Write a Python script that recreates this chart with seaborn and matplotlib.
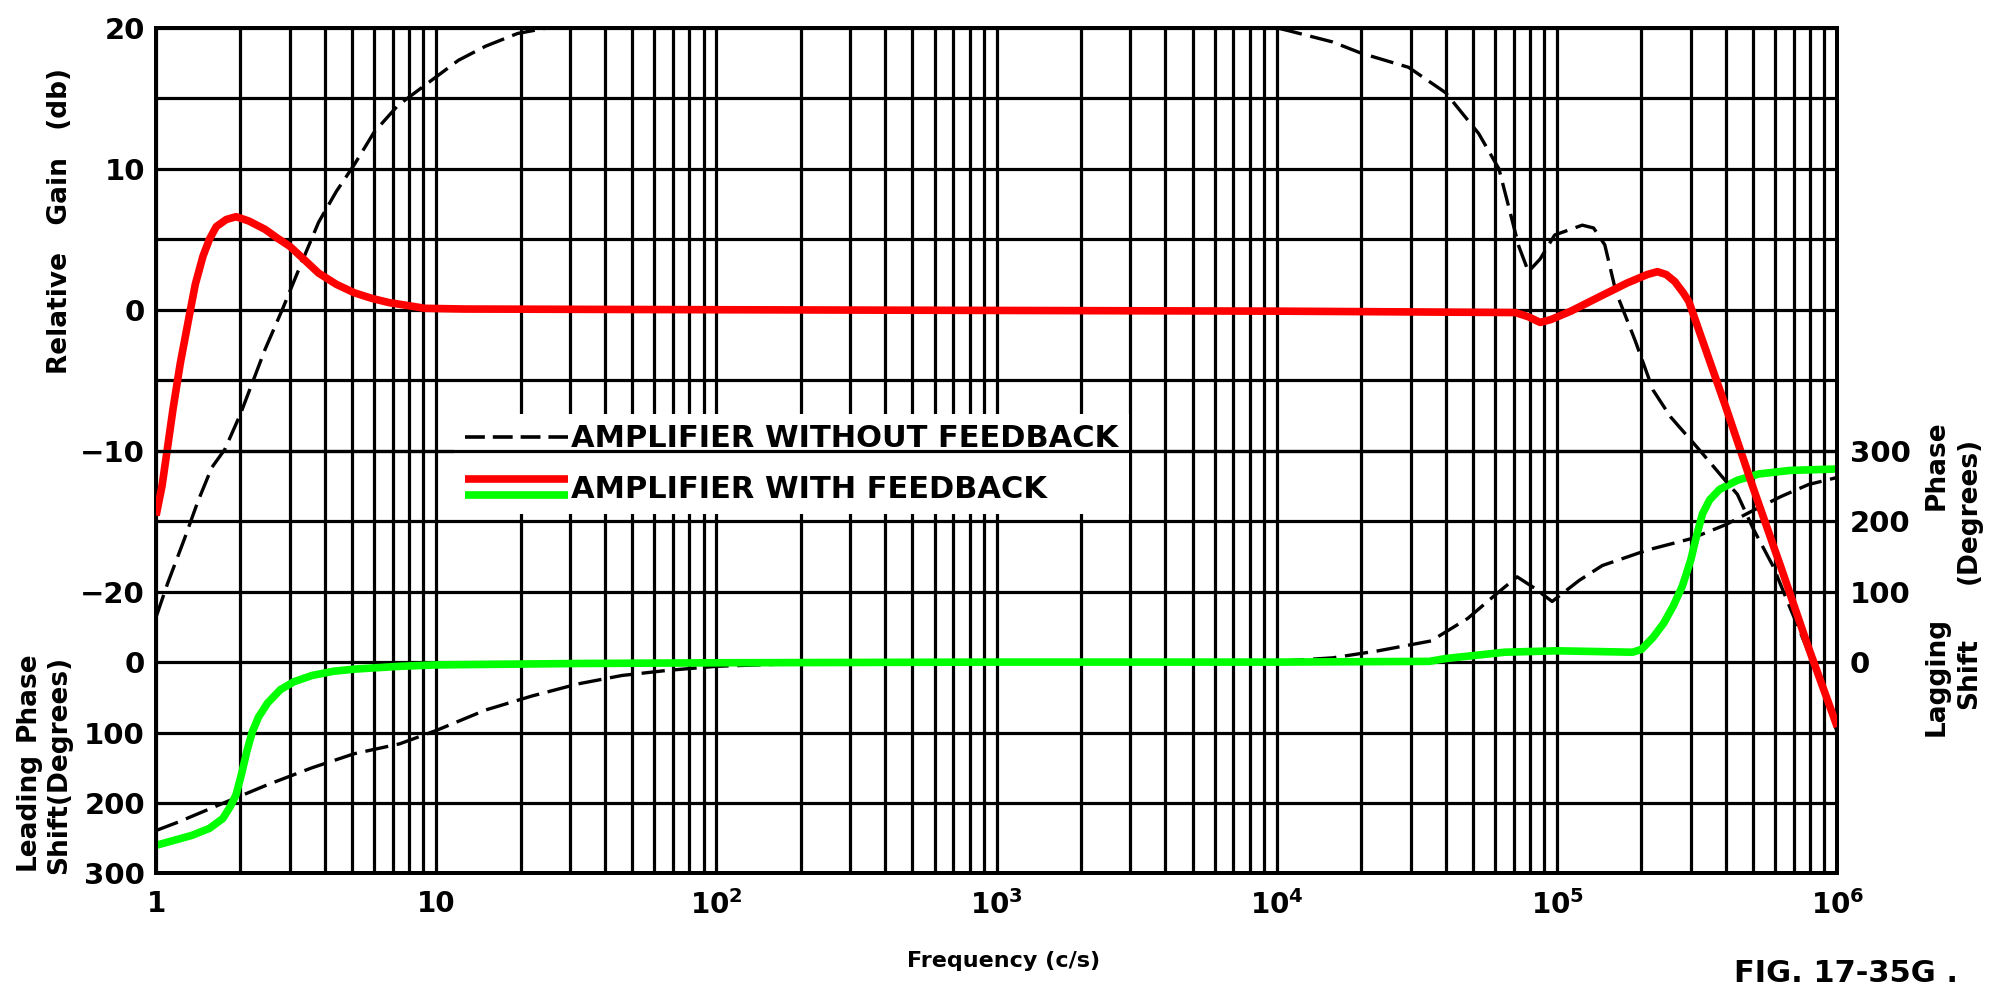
import numpy as np
import pandas as pd
import matplotlib
matplotlib.use("Agg")
import matplotlib.pyplot as plt
import seaborn as sns
from matplotlib.legend_handler import HandlerBase
from matplotlib.lines import Line2D

# ---------------- data ----------------
# Relative gain with feedback (dB)
fb_gain_freq = [1.0, 1.05, 1.1, 1.15, 1.22, 1.32, 1.38, 1.47, 1.55, 1.64, 1.78, 1.93,
                2.14, 2.45, 2.7, 3.0, 3.4, 3.8, 4.4, 5.1, 5.9, 6.8, 7.9, 9.1, 12.6,
                100, 1000, 1e4, 7.1e4, 7.9e4, 8.7e4, 9.5e4, 1.12e5, 1.41e5, 1.78e5,
                2.1e5, 2.28e5, 2.45e5, 2.63e5, 2.82e5, 2.95e5, 4.0e5, 5.0e5, 6.3e5,
                7.9e5, 1e6]
fb_gain_db = [-14.6, -12.5, -9.7, -7.0, -3.8, -0.2, 1.8, 3.8, 5.0, 5.9, 6.4, 6.6,
              6.3, 5.7, 5.1, 4.5, 3.5, 2.6, 1.8, 1.2, 0.8, 0.5, 0.3, 0.1, 0.05,
              0.0, -0.05, -0.1, -0.2, -0.5, -0.9, -0.7, -0.1, 0.9, 1.9,
              2.5, 2.7, 2.5, 2.0, 1.2, 0.6, -6.9, -12.6, -18.3,
              -24.0, -29.6]

# Relative gain without feedback (dB)
nofb_gain_freq = [1, 1.1, 1.26, 1.41, 1.58, 1.76, 2.0, 2.45, 2.82, 3.3, 3.8, 4.4, 5.1,
                  6.0, 7.3, 9.8, 12, 15, 19.5, 25, 1e4, 1.1e4, 1.58e4, 2.0e4, 2.95e4,
                  4.0e4, 5.25e4, 6.2e4, 6.7e4, 7.3e4, 7.9e4, 8.7e4, 9.8e4, 1.23e5,
                  1.35e5, 1.48e5, 1.62e5, 1.9e5, 2.2e5, 2.54e5, 3.27e5, 3.9e5, 4.4e5,
                  5.0e5, 5.9e5, 6.8e5, 7.9e5, 9.1e5, 1e6]
nofb_gain_db = [-21.8, -19.4, -16.3, -13.6, -11.2, -9.9, -7.4, -2.8, 0.0, 3.3, 6.2, 8.4,
                10.3, 12.6, 14.5, 16.4, 17.7, 18.7, 19.6, 20.0, 20.0, 19.8, 19.0, 18.2,
                17.2, 15.4, 12.5, 10.0, 7.4, 4.5, 2.7, 3.6, 5.3, 6.0,
                5.8, 4.6, 1.3, -2.2, -5.7, -7.6, -10.1, -11.9, -13.1,
                -15.5, -18.2, -21.2, -24.3, -27.6, -30.0]

# Phase shift without feedback (degrees, lagging positive / leading negative)
nofb_phase_freq = [1, 1.2, 1.74, 2.5, 3.6, 5.1, 7.4, 10, 15, 22, 32, 46, 66, 100, 200,
                   1000, 1e4, 1.58e4, 2.3e4, 3.55e4, 4.8e4, 6.0e4, 7.2e4, 8.3e4,
                   9.6e4, 1.2e5, 1.45e5, 2.1e5, 3.0e5, 4.0e5, 5.0e5, 6.3e5, 7.9e5, 1e6]
nofb_phase_deg = [-239, -227, -200, -174, -150, -130, -116, -97, -68, -48, -31, -19, -12,
                  -6, -2, 0, 1, 6, 16, 30, 62, 95, 121, 105,
                  86, 116, 137, 159, 175, 195, 215, 235, 252, 262]

# Phase shift with feedback (degrees, lagging positive / leading negative)
fb_phase_freq = [1, 1.34, 1.55, 1.73, 1.84, 1.93, 2.02, 2.11, 2.2, 2.32, 2.5, 2.78, 3.1,
                 3.6, 4.3, 5.1, 7.4, 10, 32, 100, 1000, 1e4, 3.5e4, 4.0e4, 6.5e4, 1e5,
                 1.86e5, 2.0e5, 2.2e5, 2.4e5, 2.6e5, 2.8e5, 3.0e5, 3.15e5, 3.3e5,
                 3.5e5, 3.8e5, 4.4e5, 5.25e5, 6.8e5, 1e6]
fb_phase_deg = [-260, -246, -236, -222, -205, -188, -158, -126, -100, -78, -58, -39, -28,
                -19, -13, -10, -6, -4, -2, -1, 0, 0, 1, 5, 14, 16,
                14, 18, 35, 55, 80, 108, 145, 180, 210,
                230, 245, 258, 267, 272, 274]

x_tick_vals = [1, 10, 100, 1000, 1e4, 1e5, 1e6]
x_tick_labels = ["1", "10", r"$\mathbf{10^2}$", r"$\mathbf{10^3}$", r"$\mathbf{10^4}$",
                 r"$\mathbf{10^5}$", r"$\mathbf{10^6}$"]
gain_tick_vals = [20, 10, 0, -10, -20, -25, -30, -35, -40]
gain_tick_labels = ["20", "10", "0", "\u221210", "\u221220", "0", "100", "200", "300"]
lag_tick_vals = [0, 100, 200, 300]

legend_labels = ["AMPLIFIER WITHOUT FEEDBACK", "AMPLIFIER WITH FEEDBACK"]

# ---------------- style ----------------
sns.set_theme(style="white")
plt.rcParams["font.family"] = ["DejaVu Sans"]
plt.rcParams["font.weight"] = "bold"
plt.rcParams["mathtext.default"] = "bf"
for k in ("text.color", "axes.labelcolor", "xtick.color", "ytick.color",
          "axes.edgecolor"):
    plt.rcParams[k] = "black"

RED = "#FF0000"
GREEN = "#00FF00"
BLACK = "#000000"
DASH = (0, (7, 2.6))
GRID_LW = 2.3

fig = plt.figure(figsize=(19.91, 9.84), dpi=100)
fig.patch.set_facecolor("white")

# phase axes (bottom layer, carries grid)
ax = fig.add_axes([0.0784, 0.1123, 0.8444, 0.8594])
ax.set_xscale("log")
ax.set_xlim(1, 1e6)
ax.set_ylim(-300, 900)

# gain axes (top layer)
ax2 = ax.twinx()
ax2.set_xscale("log")
ax2.set_xlim(1, 1e6)
ax2.set_ylim(-40, 20)

# grid
phase_grid = list(range(-300, 901, 100))
ax.set_yticks(phase_grid)
ax.grid(True, which="major", axis="y", color=BLACK, lw=GRID_LW)
ax.grid(True, which="both", axis="x", color=BLACK, lw=GRID_LW)
ax.set_axisbelow(True)

# phase curves
df_nofb_ph = pd.DataFrame({"f": nofb_phase_freq, "p": nofb_phase_deg})
df_fb_ph = pd.DataFrame({"f": fb_phase_freq, "p": fb_phase_deg})
sns.lineplot(data=df_nofb_ph, x="f", y="p", ax=ax, color=BLACK, lw=2.4,
             linestyle=DASH, estimator=None, sort=False, zorder=3)
sns.lineplot(data=df_fb_ph, x="f", y="p", ax=ax, color=GREEN, lw=5.5,
             estimator=None, sort=False, zorder=4, solid_capstyle="butt")

# gain curves
df_nofb_g = pd.DataFrame({"f": nofb_gain_freq, "g": nofb_gain_db})
df_fb_g = pd.DataFrame({"f": fb_gain_freq, "g": fb_gain_db})
sns.lineplot(data=df_nofb_g, x="f", y="g", ax=ax2, color=BLACK, lw=2.4,
             linestyle=DASH, estimator=None, sort=False, zorder=3, clip_on=False)
sns.lineplot(data=df_fb_g, x="f", y="g", ax=ax2, color=RED, lw=5.5,
             estimator=None, sort=False, zorder=4, solid_capstyle="butt")

# ticks
ax.yaxis.set_ticks_position("right")
ax.set_yticks(phase_grid)
ax.set_yticklabels([str(v) if v in lag_tick_vals else "" for v in phase_grid])
ax.tick_params(axis="y", which="both", length=0, left=False, labelleft=False,
               right=False, labelright=True, labelsize=21, pad=9, colors=BLACK)
ax2.yaxis.set_ticks_position("left")
ax2.set_yticks(gain_tick_vals)
ax2.set_yticklabels(gain_tick_labels)
ax2.tick_params(axis="y", which="both", length=0, left=False, labelleft=True,
                right=False, labelright=False, labelsize=21, pad=8, colors=BLACK)
ax.set_xticks(x_tick_vals)
ax.set_xticklabels(x_tick_labels)
ax.tick_params(axis="x", which="both", length=0, labelsize=20, pad=12, colors=BLACK)
ax2.tick_params(axis="x", which="both", length=0, labelbottom=False)
for t in ax.get_yticklabels() + ax2.get_yticklabels() + ax.get_xticklabels():
    t.set_fontweight("bold")

ax.set_xlabel("")
ax.set_ylabel("")
ax2.set_xlabel("")
ax2.set_ylabel("")

for a in (ax, ax2):
    for s in a.spines.values():
        s.set_color(BLACK)
        s.set_linewidth(2.8)

# legend
class HandlerStack(HandlerBase):
    def create_artists(self, legend, orig_handle, xdescent, ydescent, width,
                       height, fontsize, trans):
        arts = []
        yc = -ydescent + height / 2.0
        d = 0.27 * fontsize
        for h, y in zip(orig_handle, (yc + d, yc - d)):
            ln = Line2D([-xdescent, width - xdescent], [y, y], color=h.get_color(),
                        lw=h.get_linewidth(), solid_capstyle="butt", transform=trans)
            arts.append(ln)
        return arts

h_nofb = Line2D([], [], color=BLACK, lw=2.6, linestyle=(0, (5.5, 2.2)))
h_red = Line2D([], [], color=RED, lw=5.5)
h_green = Line2D([], [], color=GREEN, lw=5.5)
leg = ax2.legend([h_nofb, (h_red, h_green)], legend_labels,
                 handler_map={tuple: HandlerStack()},
                 loc="upper left", bbox_to_anchor=(0.168, 0.562),
                 frameon=True, facecolor="white", edgecolor="none", framealpha=1,
                 fancybox=False, borderpad=0.35, handlelength=3.4,
                 handletextpad=0.1, labelspacing=0.7,
                 prop={"size": 22, "weight": "bold"})
for t in leg.get_texts():
    t.set_color(BLACK)
leg.set_zorder(10)
ax2.axhline(-10, color=BLACK, lw=GRID_LW, zorder=11)

# axis titles
fs = 19
fig.text(0.030, 0.775, "Relative   Gain   (db)", rotation=90, ha="center",
         va="center", fontsize=fs, fontweight="bold")
fig.text(0.014, 0.176, "Leading", rotation=90, ha="center", va="center",
         fontsize=fs, fontweight="bold")
fig.text(0.014, 0.293, "Phase", rotation=90, ha="center", va="center",
         fontsize=fs, fontweight="bold")
fig.text(0.0295, 0.223, "Shift(Degrees)", rotation=90, ha="center", va="center",
         fontsize=fs, fontweight="bold")
fig.text(0.9726, 0.313, "Lagging", rotation=90, ha="center", va="center",
         fontsize=fs, fontweight="bold")
fig.text(0.9726, 0.527, "Phase", rotation=90, ha="center", va="center",
         fontsize=fs, fontweight="bold")
fig.text(0.989, 0.316, "Shift", rotation=90, ha="center", va="center",
         fontsize=fs, fontweight="bold")
fig.text(0.989, 0.481, "(Degrees)", rotation=90, ha="center", va="center",
         fontsize=fs, fontweight="bold")
fig.text(0.504, 0.023, "Frequency (c/s)", ha="center", va="center",
         fontsize=16, fontweight="bold")
fig.text(0.871, -0.004, "FIG. 17-35G .", ha="left", va="bottom",
         fontsize=22, fontweight="bold")

fig.savefig("out.png", dpi=100, facecolor="white")
